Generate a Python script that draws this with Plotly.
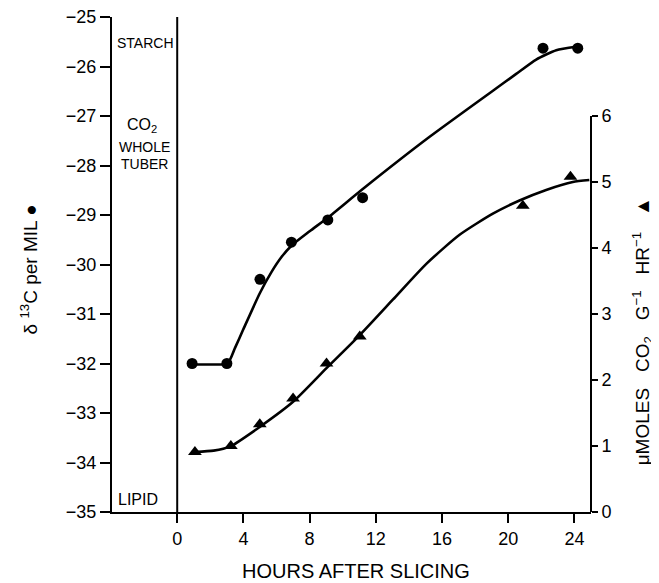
import plotly.graph_objects as go

# Data
circle_hours = [0.9, 3.0, 5.0, 6.9, 9.1, 11.2, 22.1, 24.2]
circle_delta13c = [-32.0, -32.0, -30.3, -29.55, -29.1, -28.65, -25.63, -25.63]

circle_curve_hours = [0.93, 2.0, 3.04, 3.5, 3.98, 4.99, 5.7, 6.3, 6.9, 8.0, 9.11, 11.23,
                      15.25, 19.28, 20.48, 21.69, 22.9, 24.1]
circle_curve_vals = [-32.02, -32.02, -32.0, -31.68, -31.32, -30.58, -30.15, -29.85, -29.62,
                     -29.33, -29.05, -28.47, -27.42, -26.44, -26.15, -25.86, -25.67, -25.60]

tri_hours = [1.07, 3.24, 4.99, 7.0, 9.02, 11.03, 20.88, 23.76]
tri_rate = [0.91, 1.0, 1.33, 1.72, 2.25, 2.66, 4.64, 5.08]

tri_curve_hours = [1.07, 2.2, 3.18, 4.99, 7.0, 9.02, 11.03, 13.04, 15.05, 17.06, 19.07,
                   20.68, 22.29, 23.9, 24.9]
tri_curve_vals = [0.91, 0.93, 0.99, 1.29, 1.67, 2.18, 2.68, 3.22, 3.76, 4.20, 4.52,
                  4.72, 4.88, 5.0, 5.03]

x_ticks = [0, 4, 8, 12, 16, 20, 24]
y_left_ticks = [-25, -26, -27, -28, -29, -30, -31, -32, -33, -34, -35]
y_left_labels = ["−25", "−26", "−27", "−28", "−29", "−30", "−31", "−32", "−33", "−34", "−35"]
y_right_ticks = [0, 1, 2, 3, 4, 5, 6]

FONT = "Liberation Sans"
SP = "\u00a0\u00a0\u00a0"

fig = go.Figure()
fig.add_trace(go.Scatter(x=circle_curve_hours, y=circle_curve_vals, mode="lines",
                         line=dict(color="black", width=2.6, shape="spline", smoothing=0.6),
                         showlegend=False, hoverinfo="skip"))
fig.add_trace(go.Scatter(x=circle_hours, y=circle_delta13c, mode="markers",
                         marker=dict(symbol="circle", size=11, color="black"),
                         showlegend=False))
fig.add_trace(go.Scatter(x=tri_curve_hours, y=tri_curve_vals, mode="lines", yaxis="y2",
                         line=dict(color="black", width=2.6, shape="spline", smoothing=0.6),
                         showlegend=False, hoverinfo="skip"))
fig.add_trace(go.Scatter(x=tri_hours, y=tri_rate, mode="markers", yaxis="y2",
                         marker=dict(symbol="triangle-up", size=12, color="black"),
                         showlegend=False))

fig.update_layout(
    width=651, height=575,
    margin=dict(l=104, r=68, t=9, b=71, autoexpand=False),
    paper_bgcolor="white", plot_bgcolor="white",
    font=dict(family=FONT, color="black", size=17),
    xaxis=dict(range=[-3.94, 25], tickvals=x_ticks, ticks="outside", ticklen=9,
               tickwidth=1.5, tickcolor="black", showline=True, linecolor="black",
               linewidth=2, showgrid=False, zeroline=False, ticklabeloverflow="allow",
               automargin=False, tickfont=dict(size=18, family=FONT)),
    yaxis=dict(range=[-35, -25], tickvals=y_left_ticks, ticktext=y_left_labels,
               ticks="outside", ticklen=10, tickwidth=1.5, tickcolor="black",
               showline=True, linecolor="black", linewidth=2, showgrid=False,
               zeroline=False, ticklabeloverflow="allow", automargin=False,
               tickfont=dict(size=18, family=FONT)),
    yaxis2=dict(range=[0, 7.5], tickvals=y_right_ticks, overlaying="y", side="right",
                ticks="outside", ticklen=6, tickwidth=1.5, tickcolor="black",
                showline=False, showgrid=False, zeroline=False, ticklabeloverflow="allow",
                automargin=False, tickfont=dict(size=18, family=FONT)),
    shapes=[
        dict(type="line", xref="x", yref="y", x0=0, x1=0, y0=-35, y1=-25,
             line=dict(color="black", width=2)),
        dict(type="line", xref="paper", yref="y2", x0=1, x1=1, y0=0, y1=6,
             line=dict(color="black", width=2)),
    ],
    annotations=[
        dict(text="HOURS AFTER SLICING", xref="paper", yref="paper", x=0.51, y=0,
             xanchor="center", yanchor="middle", yshift=-59, showarrow=False,
             font=dict(size=20, family=FONT)),
        dict(text="δ <sup>13</sup>C per MIL ●", xref="paper", yref="paper", x=0, y=0.49,
             xanchor="center", yanchor="middle", xshift=-83, textangle=-90,
             showarrow=False, font=dict(size=19, family=FONT)),
        dict(text=f"μMOLES{SP}CO<sub>2</sub>{SP}G<sup>−1</sup>{SP}HR<sup>−1</sup>{SP}▲",
             xref="paper", yref="paper", x=1, y=0.365, xanchor="center", yanchor="middle",
             xshift=51, textangle=-90, showarrow=False, font=dict(size=19, family=FONT)),
        dict(text="STARCH", xref="x", yref="y", x=-3.75, y=-25.53, xanchor="left",
             showarrow=False, font=dict(size=14, family=FONT)),
        dict(text="CO<sub>2</sub>", xref="x", yref="y", x=-2.1, y=-27.2,
             showarrow=False, font=dict(size=16, family=FONT)),
        dict(text="WHOLE", xref="x", yref="y", x=-2.0, y=-27.62,
             showarrow=False, font=dict(size=14, family=FONT)),
        dict(text="TUBER", xref="x", yref="y", x=-1.95, y=-27.97,
             showarrow=False, font=dict(size=14, family=FONT)),
        dict(text="LIPID", xref="x", yref="y", x=-3.7, y=-34.75, xanchor="left",
             showarrow=False, font=dict(size=16, family=FONT)),
    ],
)

fig.write_html("out.html")
